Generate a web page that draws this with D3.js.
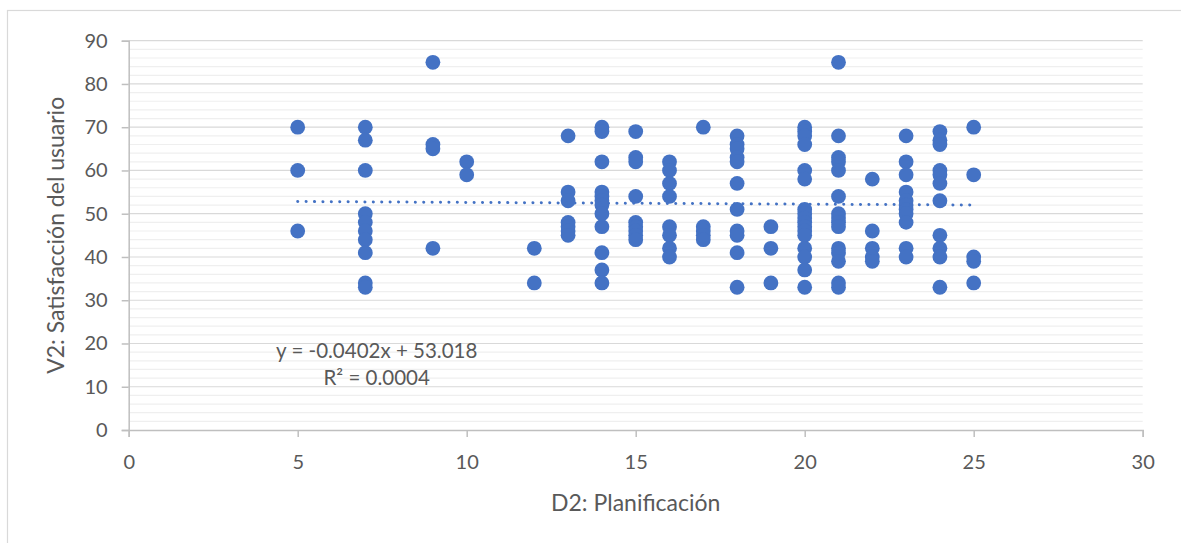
<!DOCTYPE html>
<html>
<head>
  <meta charset="utf-8">
  <script src="https://d3js.org/d3.v7.min.js"></script>
  <style>
    body { margin: 0; background: #fff; }
    text { font-family: Lato, "Open Sans", sans-serif; fill: #595959; }
  </style>
</head>
<body>
  <script type="text/javascript">
    // D2 scores (x) and the V2 scores read at each of them (y)
    var d2Scores = [5, 7, 9, 10, 12, 13, 14, 15, 16, 17, 18, 19, 20, 21, 22, 23, 24, 25];
    var v2Scores = [
      [70, 60, 46],
      [70, 67, 60, 50, 48, 46, 44, 41, 34, 33],
      [85, 66, 65, 42],
      [62, 59],
      [42, 34],
      [68, 55, 53, 48, 47, 46, 45],
      [70, 69, 62, 55, 54, 53, 52, 50, 47, 41, 37, 34],
      [69, 63, 62, 54, 48, 47, 46, 45, 44],
      [62, 60, 57, 54, 47, 45, 42, 40],
      [70, 47, 46, 45, 44],
      [68, 66, 65, 63, 62, 57, 51, 46, 45, 41, 33],
      [47, 42, 34],
      [70, 69, 68, 66, 60, 58, 51, 50, 49, 48, 47, 46, 45, 42, 40, 37, 33],
      [85, 68, 63, 62, 60, 54, 50, 49, 48, 47, 42, 41, 39, 34, 33],
      [58, 46, 42, 40, 39],
      [68, 62, 59, 55, 53, 52, 51, 50, 48, 42, 40],
      [69, 67, 66, 60, 59, 57, 53, 45, 42, 40, 33],
      [70, 59, 40, 39, 34]
    ];
    var xTicks = [0, 5, 10, 15, 20, 25, 30];
    var yTicks = [0, 10, 20, 30, 40, 50, 60, 70, 80, 90];
    var trendSlope = -0.0402, trendIntercept = 53.018;
    var trendLabel = ["y = -0.0402x + 53.018", "R² = 0.0004"];

    var points = [];
    d2Scores.forEach(function (d, i) {
      v2Scores[i].forEach(function (v) { points.push({ x: d, y: v }); });
    });

    var W = 1181, H = 543;
    var plotL = 128.7, plotR = 1142.7, plotT = 40.7, plotB = 430;

    var svg = d3.select("body").append("svg")
      .attr("width", W).attr("height", H);

    // chart frame
    svg.append("rect")
      .attr("x", 7.5).attr("y", 10.5)
      .attr("width", W + 10).attr("height", H + 10)
      .attr("fill", "none").attr("stroke", "#d9d9d9").attr("stroke-width", 1.2);

    var x = d3.scaleLinear().domain([0, 30]).range([plotL, plotR]);
    var y = d3.scaleLinear().domain([0, 90]).range([plotB, plotT]);

    // minor gridlines every 2
    svg.append("g").selectAll("line")
      .data(d3.range(2, 90, 2).filter(function (v) { return v % 10 !== 0; }))
      .join("line")
        .attr("x1", plotL).attr("x2", plotR)
        .attr("y1", function (d) { return y(d); }).attr("y2", function (d) { return y(d); })
        .attr("stroke", "#efefef").attr("stroke-width", 1.2);

    // major gridlines
    svg.append("g").selectAll("line")
      .data(yTicks.slice(1))
      .join("line")
        .attr("x1", plotL).attr("x2", plotR)
        .attr("y1", function (d) { return y(d); }).attr("y2", function (d) { return y(d); })
        .attr("stroke", "#d9d9d9").attr("stroke-width", 1.2);

    // axes
    var xAxis = svg.append("g")
      .attr("transform", "translate(0," + plotB + ")")
      .call(d3.axisBottom(x).tickValues(xTicks).tickSize(7).tickPadding(18));
    var yAxis = svg.append("g")
      .attr("transform", "translate(" + plotL + ",0)")
      .call(d3.axisLeft(y).tickValues(yTicks).tickSize(7).tickPadding(14));
    [xAxis, yAxis].forEach(function (g) {
      g.select(".domain").attr("stroke", "#bfbfbf").attr("stroke-width", 1.5);
      g.selectAll(".tick line").attr("stroke", "#bfbfbf").attr("stroke-width", 1.5);
      g.selectAll(".tick text")
        .style("font-family", "Lato, 'Open Sans', sans-serif")
        .style("font-size", "20px").attr("fill", "#595959");
    });

    // points
    svg.append("g").selectAll("circle")
      .data(points)
      .join("circle")
        .attr("cx", function (d) { return x(d.x); })
        .attr("cy", function (d) { return y(d.y); })
        .attr("r", 7.4)
        .attr("fill", "#4472c4");

    // linear trendline (dotted)
    var xMin = d3.min(d2Scores), xMax = d3.max(d2Scores);
    svg.append("line")
      .attr("x1", x(xMin)).attr("y1", y(trendSlope * xMin + trendIntercept))
      .attr("x2", x(xMax)).attr("y2", y(trendSlope * xMax + trendIntercept))
      .attr("stroke", "#4472c4").attr("stroke-width", 3)
      .attr("stroke-linecap", "round")
      .attr("stroke-dasharray", "0.1 8.3");

    // trendline equation
    svg.append("g").selectAll("text")
      .data(trendLabel)
      .join("text")
        .attr("x", 376.7)
        .attr("y", function (d, i) { return 358 + i * 27; })
        .attr("text-anchor", "middle")
        .style("font-size", "20.5px")
        .text(function (d) { return d; });

    // axis titles
    svg.append("text")
      .attr("x", (plotL + plotR) / 2).attr("y", 511)
      .attr("text-anchor", "middle")
      .style("font-size", "23px")
      .text("D2: Planificación");

    svg.append("text")
      .attr("transform", "translate(64," + ((plotT + plotB) / 2) + ") rotate(-90)")
      .attr("text-anchor", "middle")
      .style("font-size", "23px")
      .text("V2: Satisfacción del usuario");
  </script>
</body>
</html>
